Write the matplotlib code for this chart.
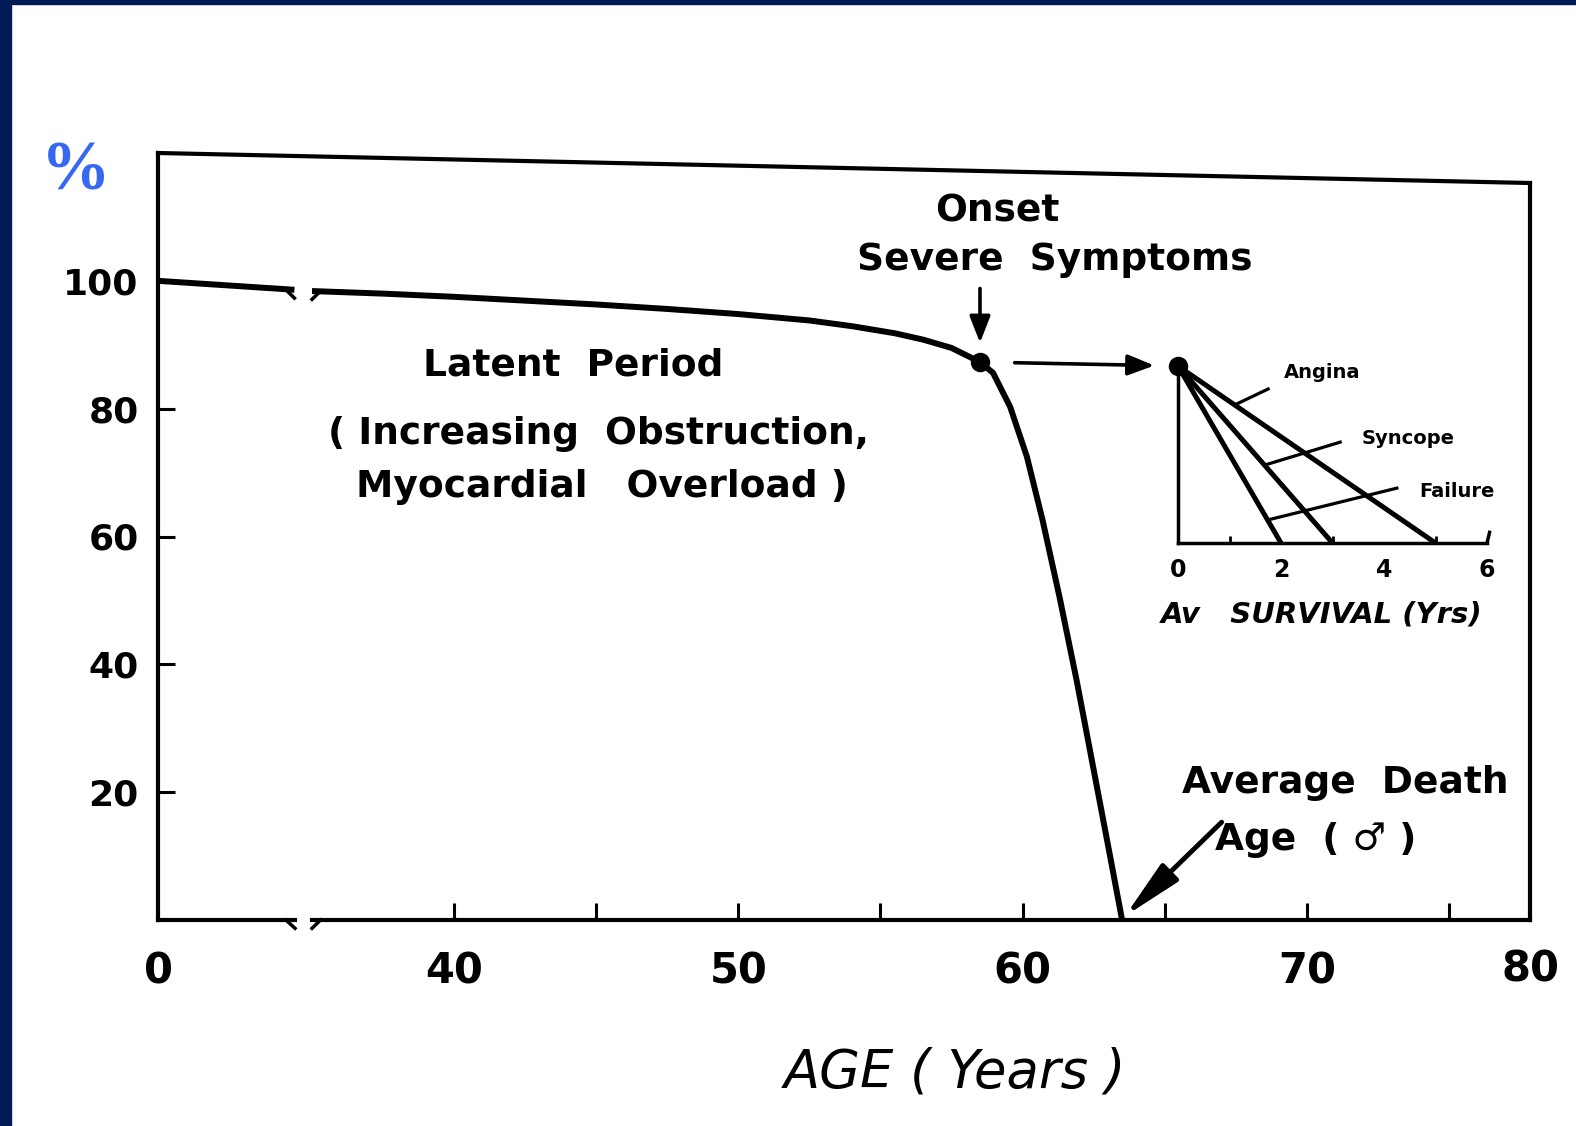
import matplotlib
matplotlib.use("Agg")
import matplotlib.pyplot as plt
from matplotlib import lines, patches

W, H = 1576, 1126

# survival curve, split by the axis break
early_age = [0.0, 2.4, 4.8]
early_pct = [100.0, 99.3, 98.6]
late_age = [35.0, 37.5, 40.0, 42.5, 45.0, 47.5, 50.0, 52.5, 54.0, 55.5, 56.5, 57.5,
            58.5, 58.96, 59.56, 60.15, 60.7, 61.3, 61.9, 62.5, 63.0, 63.5]
late_pct = [98.4, 98.0, 97.5, 96.9, 96.3, 95.6, 94.8, 93.8, 92.9, 91.8, 90.8, 89.5,
            87.3, 85.6, 80.3, 72.5, 62.6, 50.5, 37.5, 23.5, 11.8, 0.0]
onset_age, onset_pct = 58.5, 87.3
death_age = 63.6

y_ticks = [20, 40, 60, 80, 100]
x_major = [40, 50, 60, 70]
x_minor = [45, 55, 65, 75]

# inset: average survival after onset of each symptom
symptoms = ["Failure", "Syncope", "Angina"]
survival_years = [2, 3, 5]
inset_ticks = [0, 2, 4, 6]

plt.rcParams['font.family'] = ['DejaVu Sans']
plt.rcParams['font.weight'] = 'bold'


def fx(px):
    return px / W


def fy(py):
    return 1 - py / H


fig = plt.figure(figsize=(W / 100, H / 100), dpi=100)
fig.patch.set_facecolor('white')

# navy slide border
fig.add_artist(patches.Rectangle((0, 0), fx(11), 1, transform=fig.transFigure,
                                 color='#001a58', zorder=0))
fig.add_artist(patches.Rectangle((0, fy(4)), 1, 4 / H, transform=fig.transFigure,
                                 color='#001a58', zorder=0))

lw_frame = 3.0
lw_curve = 4.3
bottom = fy(920)
height = (920 - 153) / H

# left piece of the broken axis
ax0 = fig.add_axes([fx(158), bottom, fx(295 - 158), height])
ax0.set_xlim(0, 4.82)
ax0.set_ylim(0, 120)
for s in ['top', 'right']:
    ax0.spines[s].set_visible(False)
for s in ['left', 'bottom']:
    ax0.spines[s].set_linewidth(lw_frame)
ax0.set_yticks(y_ticks)
ax0.set_xticks([0])
ax0.tick_params(axis='y', direction='in', length=12, width=2.2, pad=14, labelsize=26)
ax0.tick_params(axis='x', length=0, pad=22, labelsize=30)
ax0.plot(early_age, early_pct, color='black', lw=lw_curve, solid_capstyle='butt')
ax0.plot([4.5, 4.82], [0, -1.3], color='black', lw=2.5, clip_on=False)
ax0.plot([4.5, 4.8], [early_pct[-1], early_pct[-1] - 1.3], color='black', lw=2.5, clip_on=False)

# main piece
ax = fig.add_axes([fx(312), bottom, fx(1530 - 312), height])
ax.set_xlim(35.0, 77.85)
ax.set_ylim(0, 120)
for s in ['top', 'left']:
    ax.spines[s].set_visible(False)
for s in ['right', 'bottom']:
    ax.spines[s].set_linewidth(lw_frame)
ax.spines['right'].set_bounds(0, 115.3)
ax.set_yticks([])
ax.set_xticks(x_major)
ax.set_xticks(x_minor, minor=True)
ax.tick_params(axis='x', which='both', direction='in', length=12, width=2.2,
               pad=22, labelsize=30)
ax.plot(late_age, late_pct, color='black', lw=lw_curve, solid_joinstyle='round')
ax.plot([onset_age], [onset_pct], 'o', color='black', ms=13)
ax.plot([35.0, 35.3], [-1.3, 0], color='black', lw=2.5, clip_on=False)
ax.plot([35.0, 35.3], [late_pct[0] - 1.3, late_pct[0]], color='black', lw=2.5, clip_on=False)

# slanted top of the frame (scan skew)
fig.add_artist(lines.Line2D([fx(158), fx(1530)], [fy(153), fy(183)],
                            transform=fig.transFigure, color='black', lw=lw_frame))

fig.text(fx(1530), fy(969), "80", ha='center', va='center', fontsize=30)
fig.text(fx(76), fy(172), "%", ha='center', va='center', fontsize=50,
         family='Liberation Serif', color='#3868f2')
fig.text(fx(955), fy(1073), "AGE ( Years )", ha='center', va='center',
         fontsize=38, style='italic', weight='normal')

# annotations
txt = dict(ha='center', va='center', fontsize=27)
fig.text(fx(997), fy(211), "Onset", **txt)
fig.text(fx(1055), fy(260), "Severe  Symptoms", **txt)
fig.text(fx(573), fy(366), "Latent  Period", **txt)
fig.text(fx(598), fy(434), "( Increasing  Obstruction,", **txt)
fig.text(fx(602), fy(487), "Myocardial   Overload )", **txt)
fig.text(fx(1345), fy(783), "Average  Death", **txt)
fig.text(fx(1316), fy(840), "Age  ( \u2642 )", **txt)

small_head = dict(arrowstyle='-|>,head_length=0.9,head_width=0.35', lw=2.6,
                  color='black', mutation_scale=18, shrinkA=0, shrinkB=0)
ax.annotate('', xy=(onset_age, onset_pct + 3.0), xytext=(onset_age, onset_pct + 11.5),
            arrowprops=small_head)
ax.annotate('', xy=(death_age, 0.6), xytext=(67.0, 15.3),
            arrowprops=dict(arrowstyle='-|>,head_length=1.8,head_width=0.36', lw=3.5,
                            color='black', mutation_scale=20, shrinkA=0, shrinkB=0))

# inset
axi = fig.add_axes([fx(1178), fy(543), fx(1487 - 1178), (543 - 366) / H])
axi.set_xlim(0, 6)
axi.set_ylim(0, 1)
axi.patch.set_alpha(0)
for s in ['top', 'right']:
    axi.spines[s].set_visible(False)
for s in ['left', 'bottom']:
    axi.spines[s].set_linewidth(2.5)
axi.set_yticks([])
axi.set_xticks(inset_ticks)
axi.set_xticks([1, 2, 3, 4, 5], minor=True)
axi.tick_params(axis='x', which='major', length=0, pad=11, labelsize=17)
axi.tick_params(axis='x', which='minor', direction='in', length=5, width=2)
axi.plot([6, 6.05], [0, 0.06], color='black', lw=2.5, clip_on=False)
for yrs in survival_years:
    axi.plot([0, yrs], [1, 0], color='black', lw=3.6, solid_capstyle='butt', clip_on=False)
axi.plot([0], [1], 'o', color='black', ms=13, clip_on=False)

# label leaders
axi.plot([1.1, 1.75], [1 - 1.1 / 5, 0.87], color='black', lw=2.3, clip_on=False)
axi.plot([3 * (1 - 0.44), 3.15], [0.44, 0.57], color='black', lw=2.3, clip_on=False)
axi.plot([2 * (1 - 0.13), 4.25], [0.13, 0.31], color='black', lw=2.3, clip_on=False)
lab = dict(ha='center', va='center', fontsize=14)
axi.text(2.8, 0.965, "Angina", **lab)
axi.text(4.47, 0.59, "Syncope", **lab)
axi.text(5.42, 0.29, "Failure", **lab)

ax.annotate('', xy=(0, 1), xycoords=axi.transData,
            xytext=(onset_age, onset_pct), textcoords=ax.transData,
            arrowprops=dict(small_head, shrinkA=25, shrinkB=17))

fig.text(fx(1322), fy(615), "Av   SURVIVAL (Yrs)", ha='center', va='center',
         fontsize=21, style='italic')

fig.savefig("out.png", dpi=100)
plt.close()
